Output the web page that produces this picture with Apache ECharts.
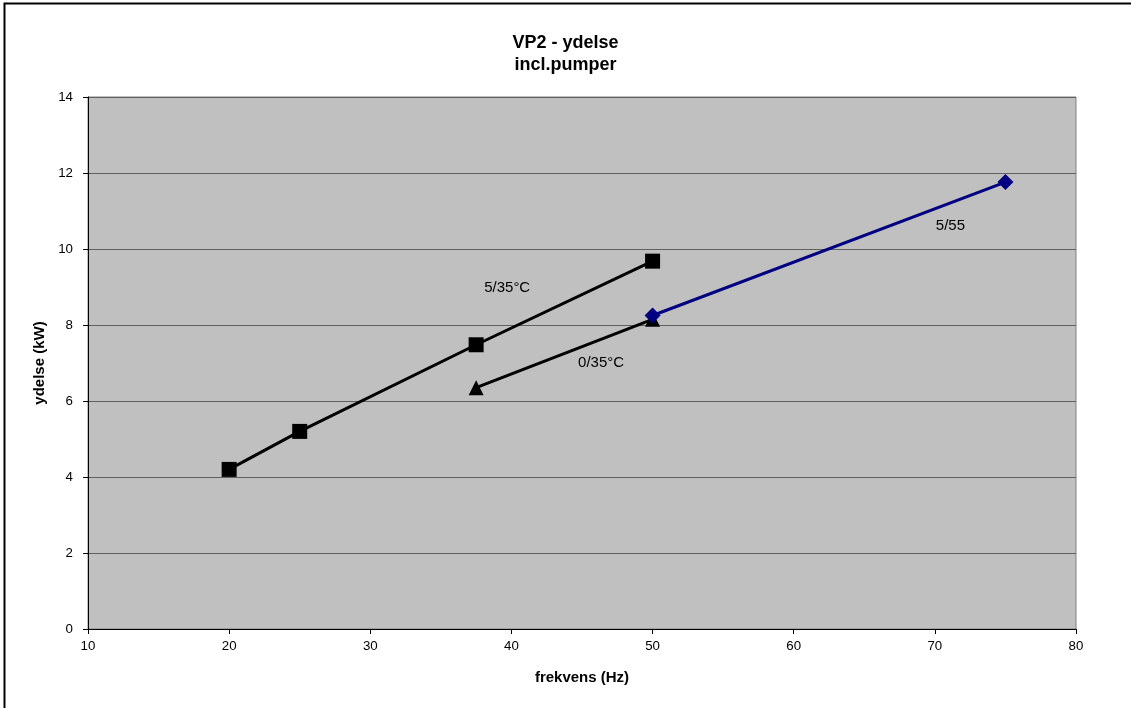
<!DOCTYPE html>
<html>
<head>
<meta charset="utf-8">
<script src="https://cdn.jsdelivr.net/npm/echarts@6/dist/echarts.min.js"></script>
<style>
  html, body { margin: 0; padding: 0; background: #fff; }
  #chart { width: 1131px; height: 708px; }
</style>
</head>
<body>
<div id="chart"></div>
<script>
// Heat pump output (kW) versus compressor frequency (Hz)
const freq535 = [20, 25, 37.5, 50];
const kw535 = [4.2, 5.2, 7.48, 9.68];

const freq035 = [37.5, 50];
const kw035 = [6.35, 8.15];

const freq555 = [50, 75];
const kw555 = [8.25, 11.76];

const seriesNames = ['5/35°C', '0/35°C', '5/55'];
// Where each series name is written, in data units
const nameAnchors = [[39.7, 8.97], [46.35, 7.0], [71.1, 10.61]];

const xTicks = [10, 20, 30, 40, 50, 60, 70, 80];
const yTicks = [0, 2, 4, 6, 8, 10, 12, 14];

const font = 'Arial, "Liberation Sans", sans-serif';

function pairs(xs, ys) { return xs.map((x, i) => [x, ys[i]]); }

function nameMark(i) {
  return {
    symbol: 'circle',
    symbolSize: 1,
    silent: true,
    itemStyle: { color: 'rgba(0,0,0,0)' },
    label: { show: true, position: 'inside', color: '#000', fontFamily: font, fontSize: 15, formatter: seriesNames[i] },
    data: [{ coord: nameAnchors[i] }]
  };
}

const chart = echarts.init(document.getElementById('chart'));
chart.setOption({
  animation: false,
  backgroundColor: '#fff',
  textStyle: { fontFamily: font },
  graphic: [{
    type: 'rect',
    shape: { x: 4.5, y: 3.5, width: 1300, height: 900 },
    style: { fill: 'none', stroke: '#000', lineWidth: 2 },
    silent: true
  }],
  title: {
    text: 'VP2 - ydelse\nincl.pumper',
    left: 'center',
    top: 27,
    textStyle: { fontFamily: font, fontSize: 18, fontWeight: 'bold', color: '#000', lineHeight: 22 }
  },
  grid: {
    left: 88, right: 55, top: 97, bottom: 79,
    show: true, backgroundColor: '#c0c0c0', borderColor: '#808080', borderWidth: 1
  },
  xAxis: {
    type: 'value',
    min: xTicks[0], max: xTicks[xTicks.length - 1], interval: 10,
    name: 'frekvens (Hz)', nameLocation: 'middle', nameGap: 41,
    nameTextStyle: { fontFamily: font, fontSize: 15, fontWeight: 'bold', color: '#000' },
    axisLine: { show: true, onZero: false, lineStyle: { color: '#000', width: 1 } },
    axisTick: { show: true, length: 5, lineStyle: { color: '#000' } },
    axisLabel: { color: '#000', fontSize: 13.3, fontFamily: font, margin: 11 },
    splitLine: { show: false }
  },
  yAxis: {
    type: 'value',
    min: yTicks[0], max: yTicks[yTicks.length - 1], interval: 2,
    name: 'ydelse (kW)', nameLocation: 'middle', nameGap: 41, nameRotate: 90,
    nameTextStyle: { fontFamily: font, fontSize: 15, fontWeight: 'bold', color: '#000' },
    axisLine: { show: true, onZero: false, lineStyle: { color: '#000', width: 1 } },
    axisTick: { show: true, length: 5, lineStyle: { color: '#000' } },
    axisLabel: { color: '#000', fontSize: 13.3, fontFamily: font, margin: 15 },
    splitLine: { show: true, lineStyle: { color: '#606060', width: 1 } }
  },
  series: [
    {
      name: seriesNames[0], type: 'line', data: pairs(freq535, kw535),
      symbol: 'rect', symbolSize: 15,
      lineStyle: { color: '#000', width: 3 }, itemStyle: { color: '#000' },
      markPoint: nameMark(0)
    },
    {
      name: seriesNames[1], type: 'line', data: pairs(freq035, kw035),
      symbol: 'triangle', symbolSize: 15,
      lineStyle: { color: '#000', width: 3 }, itemStyle: { color: '#000' },
      markPoint: nameMark(1)
    },
    {
      name: seriesNames[2], type: 'line', data: pairs(freq555, kw555),
      symbol: 'diamond', symbolSize: 16,
      lineStyle: { color: '#000080', width: 3 }, itemStyle: { color: '#000080' },
      markPoint: nameMark(2)
    }
  ]
});
</script>
</body>
</html>
